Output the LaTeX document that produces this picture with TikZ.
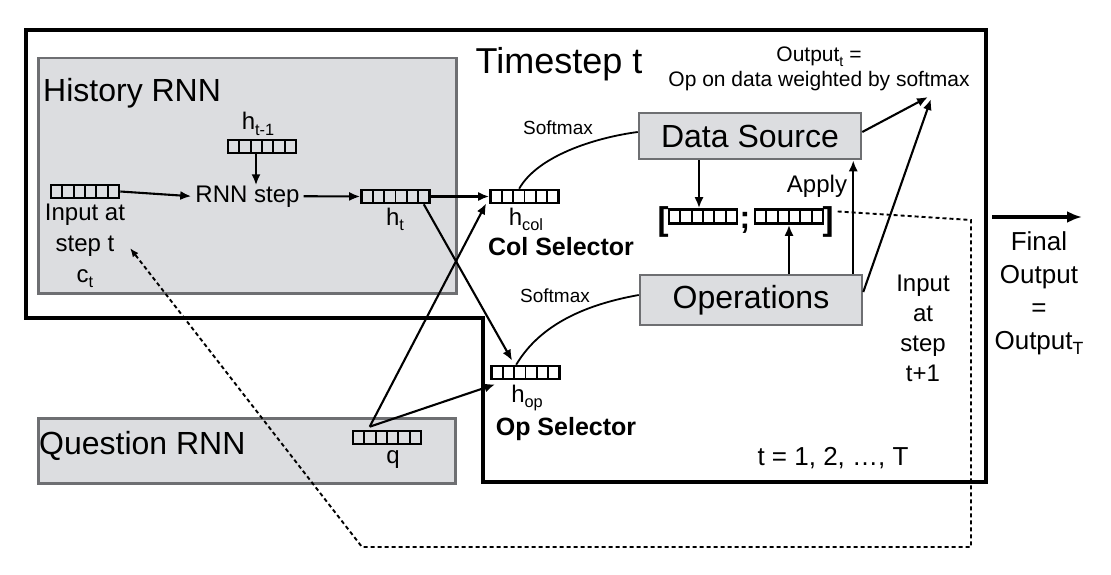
\documentclass[tikz,border=0pt]{standalone}
\usepackage{fontspec}
\setmainfont{Liberation Sans}
\usetikzlibrary{arrows.meta,positioning}

\definecolor{boxgray}{RGB}{220,221,224}
\definecolor{edgegray}{RGB}{110,111,114}

\newcommand{\lowidx}[1]{\raisebox{-0.22em}{\scalebox{0.68}{#1}}}

\tikzstyle{vec}=[draw, line width=2.6pt, minimum width=68pt, minimum height=13pt, inner sep=0pt,
  path picture={\foreach \k in {1,...,5}
    \draw[line width=1.8pt] ([xshift=\k*11.33pt]path picture bounding box.south west) -- ([xshift=\k*11.33pt]path picture bounding box.north west);}]
\tikzstyle{module}=[draw=edgegray, line width=2.5pt, fill=boxgray, inner sep=0pt]
\tikzstyle{lbl}=[inner sep=0pt, anchor=base]
\tikzstyle{arr}=[line width=2.1pt, -{Latex[length=11pt,width=9pt]}]
\tikzstyle{dotline}=[line width=1.9pt, dash pattern=on 4pt off 3pt]

\begin{document}
\begin{tikzpicture}[x=1pt, y=-1pt]
\useasboundingbox (0,0) rectangle (1111,575);
%Timestep frame
\draw[line width=4pt] (26,30) -- (986,30) -- (986,482) -- (483,482) -- (483,318) -- (26,318) -- cycle;
\node[lbl, font=\fontsize{36}{40}\selectfont] (title) at (559,74) {Timestep t};
%History RNN
\node[module, anchor=north west, minimum width=418pt, minimum height=235pt] (hist) at (37,57) {};
\node[lbl, anchor=base west, font=\fontsize{32}{36}\selectfont] (histname) at (43,102) {History RNN};
\node[vec] (hprev) at (262,146.5) {};
\node[lbl, font=\fontsize{24}{28}\selectfont] (hprevlbl) at (258,130) {h\lowidx{t-1}};
\node[vec] (xin) at (85,191.5) {};
\node[inner sep=0pt, anchor=north, align=center, font=\fontsize{24}{31}\selectfont] (xinlbl) at (85,204) {Input at\\step t\\c\lowidx{t}};
\node[lbl, inner xsep=4pt, font=\fontsize{24}{28}\selectfont] (rnn) at (247.5,202) {RNN step};
\node[vec] (ht) at (395.5,196.5) {};
\node[lbl, font=\fontsize{24}{28}\selectfont] (htlbl) at (395,225) {h\lowidx{t}};
%Question RNN
\node[module, anchor=north west, minimum width=417pt, minimum height=65pt] (ques) at (37,417) {};
\node[lbl, anchor=base west, font=\fontsize{32}{36}\selectfont] (quesname) at (39,454) {Question RNN};
\node[vec] (q) at (387,437.5) {};
\node[lbl, font=\fontsize{24}{28}\selectfont] (qlbl) at (393,463) {q};
%Selectors
\node[vec] (hcol) at (524.5,196.5) {};
\node[lbl, font=\fontsize{24}{28}\selectfont] (hcollbl) at (526,225) {h\lowidx{col}};
\node[lbl, font=\fontsize{25}{28}\bfseries] (colsel) at (561,255) {Col Selector};
\node[vec] (hop) at (525.5,372.5) {};
\node[lbl, font=\fontsize{24}{28}\selectfont] (hoplbl) at (527,402) {h\lowidx{op}};
\node[lbl, font=\fontsize{25}{28}\bfseries] (opsel) at (566,435) {Op Selector};
\node[lbl, font=\fontsize{19}{22}\selectfont] (smcol) at (558,135) {Softmax};
\node[lbl, font=\fontsize{19}{22}\selectfont] (smop) at (555,302) {Softmax};
%Data and operations
\node[module, minimum width=222pt, minimum height=46pt, font=\fontsize{32}{36}\selectfont] (ds) at (750,136) {Data Source};
\node[module, minimum width=222pt, minimum height=50pt, font=\fontsize{32}{36}\selectfont] (ops) at (751,300) {Operations};
\node[lbl, font=\fontsize{33}{34}\bfseries] (lbr) at (663,230) {[};
\node[vec, minimum height=14pt] (ldat) at (703,216.5) {};
\node[lbl, font=\fontsize{32}{32}\bfseries] (semi) at (745,228) {;};
\node[vec, minimum height=14pt] (rdat) at (789,216.5) {};
\node[lbl, font=\fontsize{33}{34}\bfseries] (rbr) at (828,230) {]};
\node[lbl, font=\fontsize{24}{28}\selectfont] (apply) at (817,193) {Apply};
\node[inner sep=0pt, anchor=north, align=center, font=\fontsize{21}{25}\selectfont] (outtxt) at (819,47) {Output\lowidx{t} =\\Op on data weighted by softmax};
\coordinate (outpt) at (928,97);
\node[inner sep=0pt, anchor=north, align=center, font=\fontsize{24}{30}\selectfont] (nextin) at (923,274.5) {Input\\at\\step\\t+1};
\node[lbl, font=\fontsize{26}{28}\selectfont] (trange) at (833,465) {t = 1, 2, …, T};
%Final output
\coordinate (fin1) at (992,217);
\coordinate (fin2) at (1082,217);
\node[inner sep=0pt, anchor=north, align=center, font=\fontsize{26}{33}\selectfont] (final) at (1039,231) {Final\\Output\\=\\Output\lowidx{T}};
%Connections
\draw[arr] (xin.east) -- (rnn.west);
\draw[arr] ([xshift=-6pt]hprev.south) -- ([xshift=-6pt]hprev.south |- rnn.north);
\draw[arr] (rnn.east) -- (ht.west);
\draw[arr] (ht.east) -- (hcol.west);
\draw[arr] ([xshift=-7pt]ht.south east) -- ([xshift=22pt,yshift=4pt]hop.north west);
\coordinate (qtop) at ([xshift=18pt,yshift=3pt]q.north west);
\draw[arr] (qtop) -- ([xshift=-3pt,yshift=1pt]hcol.south west);
\draw[arr] (qtop) -- ([xshift=5pt,yshift=-4pt]hop.south west);
\draw[line width=1.8pt] ([xshift=30pt]hcol.north west) .. controls +(18,-32) and +(-45,6) .. ([yshift=4pt]ds.west);
\draw[line width=1.8pt] ([xshift=26pt]hop.north west) .. controls +(25,-42) and +(-50,9) .. ([yshift=5pt]ops.west);
\draw[arr] ([yshift=4pt]ds.east) -- (outpt);
\draw[arr] ([yshift=8pt]ops.east) -- ([xshift=3pt,yshift=-2pt]outpt);
\draw[arr] ([xshift=-4pt]ldat.north |- ds.south) -- ([xshift=-4pt]ldat.north);
\draw[arr] (rdat.south |- ops.north) -- (rdat.south);
\draw[arr] ([xshift=-10pt]ops.north east) -- ([xshift=-9pt]ds.south east);
%Feedback to next step
\coordinate (loopa) at (971,220);
\coordinate (loopb) at (971,547);
\coordinate (loopc) at (362,547);
\coordinate (loopd) at (130,248);
\draw[dotline, -{Latex[length=9pt,width=7pt]}] ([xshift=4pt,yshift=10pt]rbr.east) -- (loopa) -- (loopb) -- (loopc) -- (loopd);
\draw[line width=3.5pt, -{Latex[length=15pt,width=12pt]}] (fin1) -- (fin2);
\end{tikzpicture}
\end{document}
